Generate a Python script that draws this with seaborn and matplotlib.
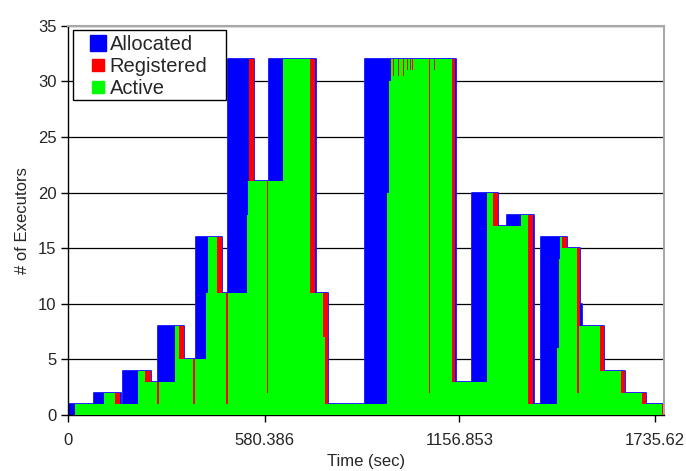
import matplotlib
matplotlib.use("Agg")
import matplotlib.pyplot as plt
from matplotlib.patches import Rectangle
import seaborn as sns

sns.set_style("white")
plt.rcParams['font.family'] = ['Liberation Sans', 'DejaVu Sans']

# step series (time in sec, value holds until next time)
alloc_t = [0, 76.9, 155.9, 162.7, 243.7, 264.5, 343.1, 376.8, 453.7, 472.4,
           549.3, 594.6, 732.7, 767.3, 877.7, 1146, 1193.3, 1270.2, 1298.6, 1377.5,
           1397.4, 1476, 1513.6, 1518.7, 1584.7, 1646.7, 1707.9, 1758.3]
alloc_v = [1, 2, 1, 4, 3, 8, 5, 16, 11, 32,
           21, 32, 11, 1, 32, 3, 20, 17, 18, 1,
           16, 15, 10, 8, 4, 2, 1, 0]

reg_t = [0, 18.9, 106.5, 153, 207, 243.7, 315.6, 343.1, 406.4, 412.4,
         453.7, 527.7, 532.5, 535.4, 549.3, 636, 729.8, 767.3, 941.9, 949.5,
         954.6, 1144, 1237.7, 1270.2, 1338.2, 1375.5, 1444.7, 1450.6, 1454.4, 1476,
         1513.6, 1584.7, 1646.7, 1707.9, 1758.3]
reg_v = [0, 1, 2, 1, 4, 3, 8, 5, 11, 16,
         11, 18, 21, 32, 21, 32, 11, 1, 20, 30,
         32, 3, 20, 17, 18, 1, 6, 14, 16, 15,
         8, 4, 2, 1, 0]

act_t = [0, 18.9, 106.5, 138.2, 207, 226.9, 262.5, 267.5, 315.6, 328.3,
         369, 374, 406.4, 412.4, 438.9, 466, 471, 527.7, 532.5, 587,
         592, 636, 715, 754.3, 760, 941.9, 949.5, 954.6,
         957, 958, 961, 962, 965, 966, 968, 969, 972, 973,
         976, 977, 980, 981, 983, 984, 987, 988, 991, 992,
         995, 996, 999, 1000, 1003, 1004, 1008, 1009, 1012, 1013,
         1017, 1018, 1022, 1023, 1027, 1028, 1033, 1034, 1040, 1041,
         1048, 1049, 1057, 1058, 1065.5, 1070.5, 1083, 1084, 1098, 1099,
         1111, 1112, 1122, 1123, 1134.1, 1237.7, 1257.2, 1338.2, 1360.7, 1444.7,
         1450.6, 1454.4, 1459.5, 1503.9, 1511.5, 1572.7, 1634.9, 1696.1, 1755.3]
act_v = [0, 1, 2, 1, 4, 3, 1, 3, 8, 5,
         1, 5, 11, 16, 11, 1, 11, 18, 21, 2,
         21, 32, 11, 7, 1, 20, 30, 32,
         31, 32, 30.5, 32, 31, 32, 30.5, 32, 31, 32,
         30.5, 32, 31, 32, 30.5, 32, 31, 32, 30.5, 32,
         31, 32, 30.5, 32, 31, 32, 30.5, 32, 31, 32,
         31, 32, 30.5, 32, 31, 32, 31, 32, 31, 32,
         31, 32, 31, 32, 2, 32, 31, 32, 31, 32,
         31, 32, 31, 32, 3, 20, 17, 18, 1, 6,
         14, 16, 15, 2, 8, 4, 2, 1, 0]

x_ticks = [0, 580.386, 1156.853, 1735.62]
x_labels = ['0', '580.386', '1156.853', '1735.62']

fig = plt.figure(figsize=(6.86, 4.71), dpi=100)
ax = fig.add_axes([0.0996, 0.1189, 0.8684, 0.8266])

series = [(alloc_t, alloc_v, '#0000ff', 'Allocated'),
          (reg_t, reg_v, '#ff0000', 'Registered'),
          (act_t, act_v, '#00ff00', 'Active')]

for i, (t, v, c, name) in enumerate(series):
    ax.fill_between(t, v, step='post', color=c, lw=0, zorder=2 + i)
    if i == 0:
        # blue outline around the allocated area
        sns.lineplot(x=t, y=v, drawstyle='steps-post', color='#2020ff',
                     lw=1.4, ax=ax, zorder=1.9, estimator=None)

ax.set_xlim(0, 1762)
ax.set_ylim(0, 35)
ax.set_yticks(range(0, 36, 5))
ax.set_xticks(x_ticks)
ax.set_xticklabels(x_labels)
ax.yaxis.grid(True, color='black', lw=0.9)
ax.set_axisbelow(True)
ax.tick_params(axis='both', direction='out', length=5, width=1, labelsize=12,
               color='black', left=True, bottom=True)
ax.tick_params(axis='x', pad=8)

ax.set_xlabel('Time (sec)', fontsize=12, labelpad=4)
ax.set_ylabel('# of Executors', fontsize=12, labelpad=6)

for s in ['left', 'bottom']:
    ax.spines[s].set_color('black')
    ax.spines[s].set_linewidth(1)
for s in ['top', 'right']:
    ax.spines[s].set_color('#a8a8a8')
    ax.spines[s].set_linewidth(1.5)

# legend box drawn separately so it can be wider than the entries
ax.add_patch(Rectangle((0.0079, 0.809), 0.2568, 0.180, transform=ax.transAxes,
                       facecolor='white', edgecolor='black', lw=1, zorder=9))
handles = [plt.Line2D([], [], marker='s', ls='', color=c, markersize=m, label=name)
           for (_, _, c, name), m in zip(series, [11, 9.2, 9.2])]
leg = ax.legend(handles=handles, loc='upper left', bbox_to_anchor=(0.0299, 0.977),
                borderaxespad=0, borderpad=0, fontsize=14.5, frameon=False,
                handletextpad=0, labelspacing=0.17, handlelength=1.17)
leg.set_zorder(10)

plt.savefig('out.png', dpi=100)
